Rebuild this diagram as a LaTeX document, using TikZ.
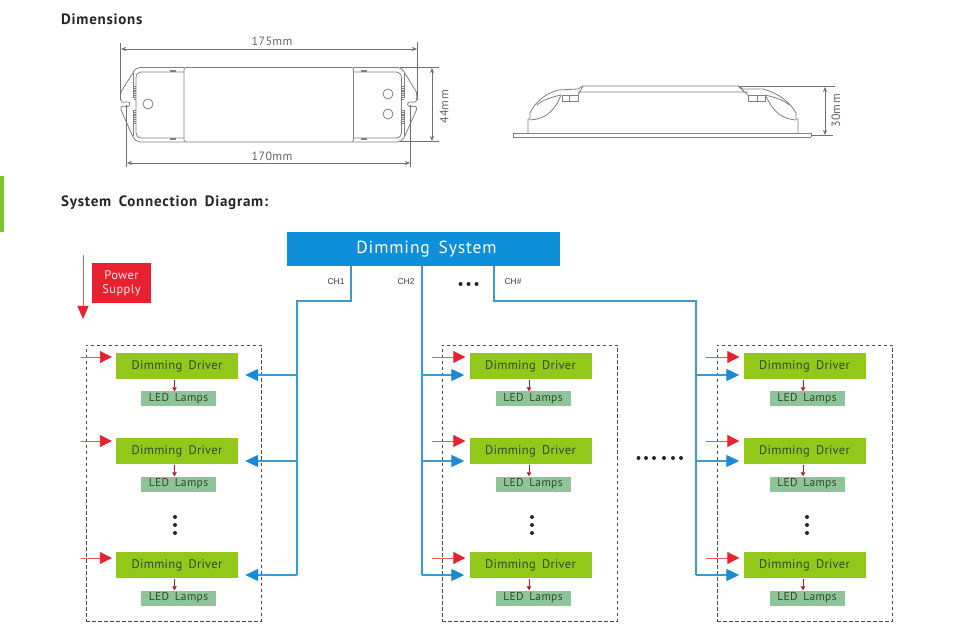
\documentclass[tikz,border=0pt]{standalone}
\usepackage{fontspec}
\setmainfont{PT Sans}
\newfontfamily\chfont{Liberation Sans}
\usetikzlibrary{arrows.meta}
\newcommand\wsp{\hspace{.5em}}
\definecolor{sysblue}{HTML}{0E8FDA}
\definecolor{wireblue}{HTML}{3A9AD2}
\definecolor{tipblue}{HTML}{1B8AD6}
\definecolor{pred}{HTML}{E8202F}
\definecolor{drvgreen}{HTML}{92C81A}
\definecolor{ledgreen}{HTML}{8FC49B}
\definecolor{barGreen}{HTML}{7AC62A}
\definecolor{drvtext}{HTML}{2F4A25}
\definecolor{dimgray}{HTML}{707070}
\definecolor{outl}{HTML}{808080}
\tikzset{
  x=1pt,y=-1pt,
  driver/.style={fill=drvgreen,draw=none,minimum width=122pt,minimum height=26pt,inner sep=0pt,text=drvtext,font=\fontsize{12.5}{14}\selectfont\addfontfeature{LetterSpace=2.5}},
  lamps/.style={fill=ledgreen,draw=none,minimum width=75pt,minimum height=15pt,inner sep=0pt,text=drvtext,font=\fontsize{11.5}{13}\selectfont\addfontfeature{LetterSpace=3}},
  groupbox/.style={draw=black!70,dash pattern=on 3.5pt off 2.5pt,line width=.8pt,minimum width=175pt,minimum height=276pt,inner sep=0pt},
  wire/.style={draw=wireblue,line width=1.2pt},
  bluearrow/.style={wire,-{Triangle[length=13pt,width=12pt,color=tipblue]}},
  redarrow/.style={draw=pred!75!white,line width=.9pt,-{Triangle[length=12pt,width=12pt,color=pred]},shorten >=4pt},
  smallred/.style={draw=pred!80!black,line width=.7pt,-{Triangle[length=4pt,width=4.5pt]}},
  heading/.style={anchor=west,inner sep=0pt,font=\fontsize{15}{17}\selectfont\bfseries\addfontfeature{LetterSpace=5},text=black!85},
  chlabel/.style={inner sep=0pt,font=\chfont\fontsize{8.5}{10}\selectfont,text=black!75},
  dimtext/.style={inner sep=0pt,font=\fontsize{12}{14}\selectfont\addfontfeature{LetterSpace=3},text=black!60},
  dimline/.style={draw=dimgray,line width=.5pt},
  dimarrow/.style={dimline,{Stealth[length=5pt,width=4pt]}-{Stealth[length=5pt,width=4pt]}},
  outline/.style={draw=outl,line width=.8pt,line join=round},
  bigdot/.style={circle,fill=black!85,inner sep=0pt,minimum size=4pt},
}
\begin{document}
\begin{tikzpicture}
\useasboundingbox (0,0) rectangle (954,636);
\fill[white] (0,0) rectangle (954,636);
\fill[barGreen] (0,176) rectangle (4,232);
\node[heading] (h1) at (61,19.5) {Dimensions};
\node[heading] (h2) at (61,202.5) {System\wsp Connection\wsp Diagram:};

% --- top view
\foreach \m in {0,1}{
  \begin{scope}[shift={(\m*537.4,0)},xscale={1-2*\m}]
    \draw[outline] (184,67.5) -- (140,67.5) .. controls (137,67.5) and (135,69) .. (134,71) -- (121,92)
       -- (120.5,98) .. controls (120.5,102) and (123,103) .. (126,102)
       .. controls (129,101) and (131,104) .. (129,106) .. controls (127,108) and (125,106) .. (123,106)
       .. controls (121,106) and (120.5,108) .. (121,110) -- (133,137) .. controls (135,140) and (137,142) .. (140,142) -- (184,142);
    \draw[outline] (184,72) -- (141,72) .. controls (138,72) and (136,74) .. (136,78) -- (136,133)
       .. controls (136,136) and (138,138) .. (141,138) -- (184,138);
    \draw[outline] (133,73) -- (133,98) (133,110) -- (133,136);
    \draw[outline,line width=2pt,dash pattern=on 1pt off .8pt] (134.5,86) -- (134.5,100);
    \draw[outline,line width=2pt,dash pattern=on 1pt off .8pt] (134.5,110) -- (134.5,124);
    \draw[outline,line width=1.2pt] (170,71) -- (176,71) (170,139) -- (176,139);
  \end{scope}
}
\draw[outline,rounded corners=2pt] (184,67.5) rectangle (353.4,142);
\draw[outline] (148,104) circle (5);
\draw[outline] (388,94) circle (5);
\draw[outline] (388,114) circle (5);
\coordinate (a1) at (121,49); \coordinate (a2) at (417,49);
\coordinate (b1) at (127,163); \coordinate (b2) at (410,163);
\coordinate (c1) at (432,68); \coordinate (c2) at (432,141);
\draw[dimarrow] (a1) -- (a2);
\draw[dimarrow] (b1) -- (b2);
\draw[dimarrow] (c1) -- (c2);
\draw[dimline] (120.5,43) -- (120.5,100) (417,42) -- (417,100);
\draw[dimline] (126.5,105) -- (126.5,167) (410,105) -- (410,167);
\draw[dimline] (400,67.5) -- (439,67.5) (400,141.5) -- (439,141.5);
\node[dimtext] (t175) at (272,41) {175mm};
\node[dimtext] (t170) at (272,156) {170mm};
\node[dimtext,rotate=90] (t44) at (444,107) {44mm};

% --- side view
\draw[draw=outl,line width=.8pt] (513,133.5) -- (811,133.5) (513,137) -- (811,137) (513,133.5) -- (513,137) (811,133.5) -- (811,137);
\draw[outline] (528,133.5) -- (528,119) -- (530,119) -- (530,113)
   .. controls (535,102) and (545,94) .. (558,90) -- (578,89) -- (583,86) -- (738,86) -- (743,89) -- (763,89)
   .. controls (778,93) and (790,102) .. (796,113) -- (796,119) -- (798,119) -- (798,133.5);
\draw[outline] (530,120) .. controls (545,119) and (552,112) .. (558,102) -- (561,95);
\draw[outline] (537,105) .. controls (542,100) and (552,97) .. (561,95);
\draw[outline] (796,120) .. controls (782,119) and (775,112) .. (769,102) -- (765,95);
\draw[outline] (789,105) .. controls (784,100) and (774,97) .. (765,95);
\draw[outline] (578,92) -- (748,92) (578,95) -- (583,86) (748,95) -- (738,86);
\draw[outline] (562,95) rectangle (578,101) (569,95) -- (569,101);
\draw[outline] (748,95) rectangle (765,101) (757,95) -- (757,101);
\coordinate (d1) at (825,87); \coordinate (d2) at (825,135);
\draw[dimarrow] (d1) -- (d2);
\draw[dimline] (740,86) -- (835,86) (811,135.5) -- (833,135.5);
\node[dimtext,rotate=90] (t30) at (836,111) {30mm};

% --- system
\node[fill=sysblue,minimum width=273pt,minimum height=34pt,inner sep=0pt] (sys) at (423.5,249) {};
\node[text=white,inner sep=0pt,font=\fontsize{17.5}{20}\selectfont\addfontfeature{LetterSpace=5}] (systxt) at (426.5,249.5) {Dimming\wsp System};
\node[fill=pred,text=white!90!pred,minimum width=59pt,minimum height=40pt,inner sep=0pt,align=center,font=\fontsize{12.5}{14}\selectfont\addfontfeature{LetterSpace=3}] (psu) at (121.5,283) {Power\\Supply};
\coordinate (ps1) at (83,255); \coordinate (ps2) at (83,319);
\draw[draw=pred!75!white,line width=1pt,-{Triangle[length=13pt,width=11pt,color=pred]}] (ps1) -- (ps2);
\node[chlabel] (ch1) at (336,282) {CH1};
\node[chlabel] (ch2) at (406,282) {CH2};
\node[chlabel] (chn) at (513,282) {CH\#};
\foreach \px in {460.5,468.5,476.5}{\node[bigdot] (dt\px) at (\px,284) {};}
\foreach \px in {638.5,646,654,664,673,681}{\node[bigdot] (hd\px) at (\px,458) {};}

% --- groups
\foreach \g/\bx/\dx/\lx/\vx in {L/173.5/177/178.5/175, M/529.5/530.5/533/532, R/804.5/804.5/807/807}{
  \node[groupbox] (box\g) at (\bx,483) {};
  \foreach \i/\dy/\ly in {1/366/399, 2/451/484, 3/565/598}{
    \node[driver] (dr\g\i) at (\dx,\dy) {Dimming\wsp Driver};
    \node[lamps] (led\g\i) at (\lx,\ly) {LED\wsp Lamps};
    \draw[smallred] (dr\g\i.south -| led\g\i.north) ++(-4,1) coordinate (s\g\i) -- (s\g\i |- led\g\i.north);
  }
  \foreach \vy in {517,525,533}{\node[bigdot] (vd\g\vy) at (\vx,\vy) {};}
}
% red feed positions
\foreach \i/\ry in {1/357,2/441,3/558}{
  \coordinate (rL\i) at (81,\ry); \coordinate (rM\i) at (432,\ry); \coordinate (rR\i) at (706,\ry);
  \draw[redarrow] (rL\i) -- (rL\i -| drL\i.west);
  \draw[redarrow] (rM\i) -- (rM\i -| drM\i.west);
  \draw[redarrow] (rR\i) -- (rR\i -| drR\i.west);
}
% wires
\coordinate (w1) at (351,301); \coordinate (w1b) at (297,301); \coordinate (w1e) at (297,575);
\draw[wire] (sys.south -| w1) -- (w1) -- (w1b) -- (w1e);
\coordinate (w2) at (422,575);
\draw[wire] (sys.south -| w2) -- (w2);
\coordinate (w3) at (494,301); \coordinate (w3b) at (696,301); \coordinate (w3e) at (696,575);
\draw[wire] (sys.south -| w3) -- (w3) -- (w3b) -- (w3e);
\foreach \i/\by in {1/375,2/461,3/575}{
  \coordinate (bL\i) at (297,\by); \coordinate (bM\i) at (422,\by); \coordinate (bR\i) at (696,\by);
  \draw[bluearrow,shorten >=7pt] (bL\i) -- (bL\i -| drL\i.east);
  \draw[bluearrow,shorten >=5pt] (bM\i) -- (bM\i -| drM\i.west);
  \draw[bluearrow,shorten >=4pt] (bR\i) -- (bR\i -| drR\i.west);
}
\end{tikzpicture}
\end{document}
